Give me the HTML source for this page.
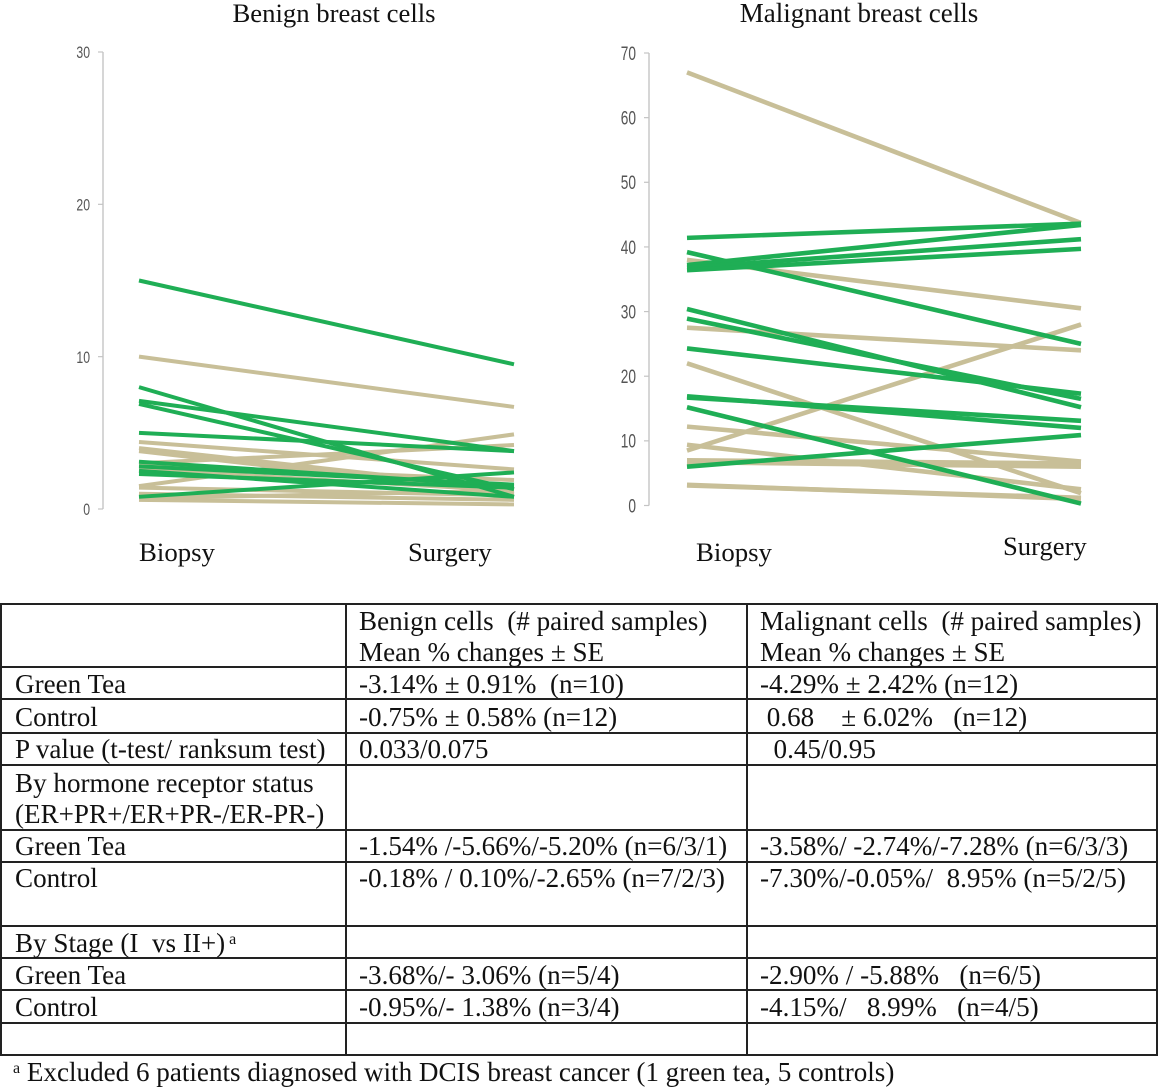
<!DOCTYPE html>
<html>
<head>
<meta charset="utf-8">
<style>
html,body{margin:0;padding:0;background:#fff;}
#page{position:relative;width:1158px;height:1089px;overflow:hidden;background:#fff;font-family:"Liberation Serif",serif;color:#111;}
#charts{position:absolute;left:0;top:0;}
.c{position:absolute;font-size:27.1px;line-height:32px;white-space:pre;}
.h{position:absolute;left:0;width:1158px;height:2px;background:#222;}
.v{position:absolute;top:604px;height:452px;width:2px;background:#222;}
.a{left:15px;}.b{left:359px;}.d{left:760px;}
sup{font-size:16px;line-height:0;vertical-align:8px;}
</style>
</head>
<body>
<div id="page">
<svg id="charts" width="1158" height="600" xmlns="http://www.w3.org/2000/svg"></svg>
<div id="t">
<div class="h" style="top:603px"></div>
<div class="h" style="top:666px"></div>
<div class="h" style="top:698px"></div>
<div class="h" style="top:732px"></div>
<div class="h" style="top:764px"></div>
<div class="h" style="top:829px"></div>
<div class="h" style="top:861px"></div>
<div class="h" style="top:925px"></div>
<div class="h" style="top:957px"></div>
<div class="h" style="top:989px"></div>
<div class="h" style="top:1022px"></div>
<div class="h" style="top:1054px"></div>
<div class="v" style="left:0"></div>
<div class="v" style="left:345px"></div>
<div class="v" style="left:746px"></div>
<div class="v" style="left:1156px"></div>

<div class="c b" style="top:605px">Benign cells  (# paired samples)</div>
<div class="c b" style="top:636px">Mean % changes ± SE</div>
<div class="c d" style="top:605px">Malignant cells  (# paired samples)</div>
<div class="c d" style="top:636px">Mean % changes ± SE</div>

<div class="c a" style="top:668px">Green Tea</div>
<div class="c b" style="top:668px">-3.14% ± 0.91%  (n=10)</div>
<div class="c d" style="top:668px">-4.29% ± 2.42% (n=12)</div>

<div class="c a" style="top:701px">Control</div>
<div class="c b" style="top:701px">-0.75% ± 0.58% (n=12)</div>
<div class="c d" style="top:701px"> 0.68    ± 6.02%   (n=12)</div>

<div class="c a" style="top:733px">P value (t-test/ ranksum test)</div>
<div class="c b" style="top:733px">0.033/0.075</div>
<div class="c d" style="top:733px">  0.45/0.95</div>

<div class="c a" style="top:767px">By hormone receptor status</div>
<div class="c a" style="top:798px">(ER+PR+/ER+PR-/ER-PR-)</div>

<div class="c a" style="top:830px">Green Tea</div>
<div class="c b" style="top:830px">-1.54% /-5.66%/-5.20% (n=6/3/1)</div>
<div class="c d" style="top:830px">-3.58%/ -2.74%/-7.28% (n=6/3/3)</div>

<div class="c a" style="top:862px">Control</div>
<div class="c b" style="top:862px">-0.18% / 0.10%/-2.65% (n=7/2/3)</div>
<div class="c d" style="top:862px">-7.30%/-0.05%/  8.95% (n=5/2/5)</div>

<div class="c a" style="top:927px">By Stage (I  vs II+)<sup> a</sup></div>

<div class="c a" style="top:959px">Green Tea</div>
<div class="c b" style="top:959px">-3.68%/- 3.06% (n=5/4)</div>
<div class="c d" style="top:959px">-2.90% / -5.88%   (n=6/5)</div>

<div class="c a" style="top:991px">Control</div>
<div class="c b" style="top:991px">-0.95%/- 1.38% (n=3/4)</div>
<div class="c d" style="top:991px">-4.15%/   8.99%   (n=4/5)</div>
</div>
<div class="c" id="note" style="left:13px;top:1056px"><sup>a</sup> Excluded 6 patients diagnosed with DCIS breast cancer (1 green tea, 5 controls)</div>
</div>
<script>
var benignTicks = [0, 10, 20, 30];
var malignantTicks = [0, 10, 20, 30, 40, 50, 60, 70];
var benignGreenBiopsy = [15, 8, 7.1, 6.9, 5, 3.1, 2.8, 2.5, 2.3, 0.8];
var benignGreenSurgery = [9.5, 0.8, 3.8, 1.3, 3.8, 1.5, 1.6, 0.8, 1.4, 2.4];
var benignBeigeBiopsy = [10, 4.4, 4, 3.8, 3, 2.9, 2.6, 1.5, 1.4, 1, 0.7, 0.6];
var benignBeigeSurgery = [6.7, 2.6, 1.3, 1, 4.2, 1.9, 1.2, 4.9, 0.9, 0.6, 1.2, 0.3];
var malignantGreenBiopsy = [41.4, 39.2, 37.2, 36.8, 36.4, 30.4, 28.9, 24.3, 16.9, 16.7, 15.2, 6];
var malignantGreenSurgery = [43.6, 25, 43.4, 41.2, 39.7, 15.2, 16.5, 17.3, 12, 13.1, 0.3, 10.9];
var malignantBeigeBiopsy = [67, 38, 27.5, 22, 12.2, 9.4, 8.5, 7, 6.9, 6.7, 3.2, 3.1];
var malignantBeigeSurgery = [43.7, 30.5, 24, 1.9, 6.8, 2.5, 28, 6.5, 6.3, 6, 1, 1.2];

var NS = 'http://www.w3.org/2000/svg';
var svg = document.getElementById('charts');
var GREEN = '#1fae55', BEIGE = '#c8bf98';

function add(tag, attrs, parent) {
  var el = document.createElementNS(NS, tag);
  for (var k in attrs) el.setAttribute(k, attrs[k]);
  (parent || svg).appendChild(el);
  return el;
}

function drawPanel(o) {
  var y = function (v) { return o.y0 - (v - 0) * (o.y0 - o.yTop) / o.yMax; };
  var x = function (i) { return i === 0 ? o.x0 : o.x1; };

  var axis = add('line', {x1: o.axisX, x2: o.axisX, y1: y(o.yMax), y2: y(0), stroke: '#c4c4c4', 'stroke-width': 1.4});
  
  

  o.ticks.forEach(function (t) {
    var tick = add('line', {x1: o.axisX - 5, x2: o.axisX, y1: y(t), y2: y(t), stroke: '#c4c4c4', 'stroke-width': 1.2});
    
    
    var label = add('text', {
      transform: 'translate(' + (o.axisX - 13) + ',' + (y(t) + o.tickSize * 0.36) + ') scale(0.72,1)',
      'text-anchor': 'end', 'font-family': '"Liberation Sans", sans-serif',
      'font-size': o.tickSize, fill: '#555'
    });
    label.textContent = t;
    
    
  });

  function series(a, b, color, kind) {
    a.forEach(function (v, i) {
      var line = add('line', {x1: x(0), y1: y(v), x2: x(1), y2: y(b[i]), stroke: color, 'stroke-width': o.sw});
      
      
    });
  }
  series(o.beigeA, o.beigeB, BEIGE, 'control');
  series(o.greenA, o.greenB, GREEN, 'green-tea');

  var title = add('text', {x: o.titleX, y: 22, 'text-anchor': 'middle', 'font-family': '"Liberation Serif", serif', 'font-size': o.titleSize, fill: '#111'});
  title.textContent = o.title;
  
  

  var c1 = add('text', {x: o.bx, y: o.by, 'font-family': '"Liberation Serif", serif', 'font-size': 26.8, fill: '#111'});
  c1.textContent = 'Biopsy';
  
  

  var c2 = add('text', {x: o.sx, y: o.sy, 'font-family': '"Liberation Serif", serif', 'font-size': 26.6, fill: '#111'});
  c2.textContent = 'Surgery';
  
  
}

drawPanel({
  name: 'benign', title: 'Benign breast cells', titleX: 334, titleSize: 26.7,
  axisX: 103, x0: 139, x1: 514, y0: 509, yTop: 52, yMax: 30,
  ticks: benignTicks, tickSize: 17, sw: 4,
  greenA: benignGreenBiopsy, greenB: benignGreenSurgery,
  beigeA: benignBeigeBiopsy, beigeB: benignBeigeSurgery,
  bx: 139, by: 561, sx: 408, sy: 561
});
drawPanel({
  name: 'malignant', title: 'Malignant breast cells', titleX: 859, titleSize: 27,
  axisX: 649, x0: 687, x1: 1081, y0: 505.5, yTop: 53, yMax: 70,
  ticks: malignantTicks, tickSize: 19, sw: 4.6,
  greenA: malignantGreenBiopsy, greenB: malignantGreenSurgery,
  beigeA: malignantBeigeBiopsy, beigeB: malignantBeigeSurgery,
  bx: 696, by: 561, sx: 1003, sy: 555
});
</script>
</body>
</html>
